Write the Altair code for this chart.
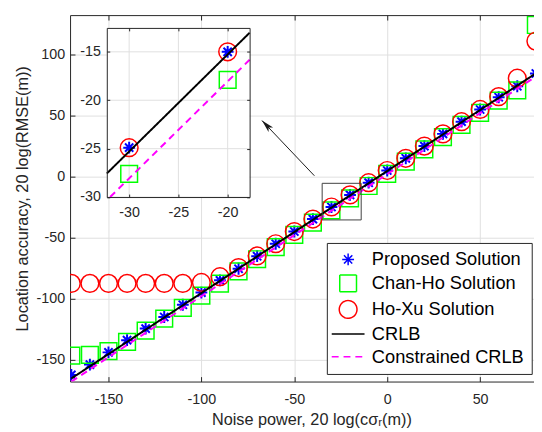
import altair as alt
import pandas as pd

# ---------------- data ----------------
x_vals = [-170, -160, -150, -140, -130, -120, -110, -100, -90, -80, -70, -60, -50,
          -40, -30, -20, -10, 0, 10, 20, 30, 40, 50, 60, 70, 80]
proposed = [-162.5, -154.0, -144.0, -134.0, -124.5, -115.0, -105.0, -95.0, -85.0, -75.5,
            -65.2, -55.0, -45.0, -34.8, -24.9, -15.0, -5.0, 5.0, 15.0, 25.0, 35.0, 45.0,
            55.0, 65.0, 74.0, 84.5]
chan_ho = [-146.7, -146.1, -142.9, -135.4, -126.2, -116.3, -107.5, -97.6, -87.7, -77.7,
           -67.7, -57.7, -47.7, -37.7, -27.6, -17.9, -7.7, 2.3, 12.3, 22.3, 32.3, 42.3,
           52.3, 62.3, 70.7, 124.2]
ho_xu = [-87.5, -87.5, -87.5, -87.5, -87.5, -87.5, -87.5, -86.7, -82.0, -74.5,
         -65.0, -55.0, -45.0, -34.8, -24.9, -15.0, -5.0, 5.0, 15.0, 25.0, 35.0, 45.0,
         55.0, 65.5, 80.6, 111.0]
crlb = [-165.4, -155.4, -145.4, -135.4, -125.4, -115.4, -105.4, -95.4, -85.4, -75.4,
        -65.4, -55.4, -45.4, -35.4, -25.4, -15.4, -5.4, 4.6, 14.6, 24.6, 34.6, 44.6,
        54.6, 64.6, 74.6, 84.6]
crlb_constrained = [-168.0, -158.0, -148.0, -138.0, -128.0, -118.0, -108.0, -98.0, -88.0,
                    -78.0, -68.0, -58.0, -48.0, -38.0, -28.0, -18.0, -8.0, 2.0, 12.0, 22.0,
                    32.0, 42.0, 52.0, 62.0, 72.0, 82.0]

series_names = ["Proposed Solution", "Chan-Ho Solution", "Ho-Xu Solution",
                "CRLB", "Constrained CRLB"]
series_colors = ["#0000ff", "#00ff00", "#ff0000", "#000000", "#ff00ff"]

x_ticks = [-150, -100, -50, 0, 50]
y_ticks = [-150, -100, -50, 0, 50, 100]
x_limits = [-170.68, 79.0]
y_limits = [-167.9, 132.3]

inset_x_ticks = [-30, -25, -20]
inset_y_ticks = [-30, -25, -20, -15]
inset_x_limits = [-32.27, -17.77]
inset_y_limits = [-30.0, -12.53]
inset_crlb_x = [-32.27, -17.77]
inset_crlb_y = [-27.57, -13.03]
inset_ccrlb_x = [-31.93, -17.77]
inset_ccrlb_y = [-30.0, -15.82]

zoom_box_x = [-35.0, -14.0]
zoom_box_y = [-35.5, -5.5]
arrow_x = [-39.2, -67.4]
arrow_y = [0.7, 45.9]

# ---------------- styling / layout ----------------
W, H = 471, 372
FONT = "Liberation Sans"
TXT = "#262626"
GRID = "#dfdfdf"
STAR = "M-1,0L1,0M0,-1L0,1M-0.7,-0.7L0.7,0.7M-0.7,0.7L0.7,-0.7"
LINE_SYM = "M-1.85,0L1.85,0"
ARROW = "M0,0L0.4,1.6L0,1.2L-0.4,1.6Z"
LBL = "'' + datum.value"

IX_RANGE = [37.3, 182.3]
IY_RANGE = [184.7, 13.0]


def ax(**kw):
    base = dict(labelFont=FONT, labelFontSize=14.5, labelColor=TXT, titleFont=FONT,
                titleFontSize=16.5, titleColor=TXT, titleFontWeight="normal",
                domainColor=TXT, tickColor=TXT, domainWidth=1, tickWidth=1,
                gridColor=GRID, gridWidth=1)
    base.update(kw)
    return alt.Axis(**base)


pts = pd.DataFrame({
    "x": x_vals * 3,
    "y": proposed + chan_ho + ho_xu,
    "series": [series_names[0]] * len(x_vals) + [series_names[1]] * len(x_vals)
              + [series_names[2]] * len(x_vals),
})
curves_df = pd.DataFrame({
    "x": x_vals * 2,
    "y": crlb + crlb_constrained,
    "series": [series_names[3]] * len(x_vals) + [series_names[4]] * len(x_vals),
})

LEG = alt.Legend(title=None, orient="none", legendX=260.7, legendY=231.3,
                 fillColor="white", strokeColor=TXT, padding=7.5, labelFont=FONT,
                 labelFontSize=18.5, labelColor="black", labelOffset=14.1, symbolOffset=4.1,
                 rowPadding=3, symbolStrokeWidth=1.5, labelLimit=400)
color = alt.Color("series:N", scale=alt.Scale(domain=series_names, range=series_colors),
                  legend=LEG)
shape = alt.Shape("series:N", scale=alt.Scale(domain=series_names,
                  range=[STAR, "square", "circle", LINE_SYM, LINE_SYM]), legend=LEG)
size = alt.Size("series:N", scale=alt.Scale(type="ordinal", domain=series_names,
                range=[144, 289, 324, 324, 324]), legend=LEG)
dash = alt.StrokeDash("series:N", scale=alt.Scale(domain=series_names,
                      range=[[1, 0], [1, 0], [1, 0], [1, 0], [7, 5]]), legend=LEG)

is_star = alt.FieldEqualPredicate(field="series", equal=series_names[0])
not_star = alt.FieldOneOfPredicate(field="series", oneOf=series_names[1:3])

# ---------------- main plot ----------------
XS = alt.Scale(domain=x_limits, nice=False, zero=False)
YS = alt.Scale(domain=y_limits, nice=False, zero=False)
AX_X = ax(orient="bottom", values=x_ticks, title="Noise power, 20 log(cσᵣ(m))", grid=True,
          ticks=False, labelPadding=11, titleX=245, titleY=43.3,
          titleBaseline="alphabetic", labelExpr=LBL, zindex=0)
AX_Y = ax(orient="left", values=y_ticks, title="Location accuracy, 20 log(RMSE(m))",
          grid=True, ticks=False, labelPadding=5.5, titleX=-42.7,
          titleBaseline="alphabetic", labelExpr=LBL, zindex=0)
ex = alt.X("x:Q", scale=XS, axis=AX_X)
ey = alt.Y("y:Q", scale=YS, axis=AX_Y)

stars = alt.Chart(pts).transform_filter(is_star).mark_point(
    filled=False, strokeWidth=2, opacity=1, clip=True).encode(
    x=ex, y=ey, color=color, shape=shape, size=size)
rings = alt.Chart(pts).transform_filter(not_star).mark_point(
    filled=False, strokeWidth=1.5, opacity=1, clip=True).encode(
    x=ex, y=ey, color=color, shape=shape, size=size)
curves = alt.Chart(curves_df).mark_line(strokeWidth=2, clip=True).encode(
    x=ex, y=ey, color=color, strokeDash=dash)
box = alt.Chart(pd.DataFrame({"x": [zoom_box_x[0]], "x2": [zoom_box_x[1]],
                              "y": [zoom_box_y[0]], "y2": [zoom_box_y[1]]})).mark_rect(
    fill="white", fillOpacity=0, stroke="#404040", strokeWidth=1).encode(
    x=ex, x2="x2:Q", y=ey, y2="y2:Q")
arrow_df = pd.DataFrame({"x": arrow_x, "y": arrow_y})
arrow_line = alt.Chart(arrow_df).mark_line(color="#1a1a1a", strokeWidth=1).encode(x=ex, y=ey)
arrow_head = alt.Chart(arrow_df.iloc[[1]]).mark_point(
    shape=ARROW, filled=True, color="#1a1a1a", size=262, angle=316, opacity=1).encode(x=ex, y=ey)

main = alt.layer(stars, rings, curves, box, arrow_line, arrow_head)

tick1 = alt.Chart(pts).mark_point(opacity=0).encode(
    x=alt.X("x:Q", scale=XS, axis=ax(orient="top", offset=-H, values=x_ticks, labels=False,
                                     domain=False, grid=False, tickSize=5, title=None, zindex=1)),
    y=alt.Y("y:Q", scale=YS, axis=ax(orient="right", offset=-W, values=y_ticks, labels=False,
                                     domain=False, grid=False, tickSize=5, title=None, zindex=1)))
tick2 = alt.Chart(pts).mark_point(opacity=0).encode(
    x=alt.X("x:Q", scale=XS, axis=ax(orient="bottom", offset=-H, values=x_ticks, labels=False,
                                     domain=True, grid=False, tickSize=5, title=None, zindex=1)),
    y=alt.Y("y:Q", scale=YS, axis=None))

# ---------------- inset ----------------
IXS = alt.Scale(domain=inset_x_limits, range=IX_RANGE, nice=False, zero=False)
IYS = alt.Scale(domain=inset_y_limits, range=IY_RANGE, nice=False, zero=False)
IAX_X = ax(orient="bottom", offset=IY_RANGE[0] - H, values=inset_x_ticks, ticks=False,
           labelPadding=9, grid=False, domain=True, title=None, zindex=1, labelExpr=LBL)
IAX_Y = ax(orient="left", offset=-IX_RANGE[0], values=inset_y_ticks, ticks=False,
           labelPadding=6.5, grid=False, domain=True, title=None, zindex=1, labelExpr=LBL)
ix = alt.X("x:Q", scale=IXS, axis=IAX_X)
iy = alt.Y("y:Q", scale=IYS, axis=IAX_Y)

bg = alt.Chart(pd.DataFrame({"x": [inset_x_limits[0]], "x2": [inset_x_limits[1]],
                             "y": [inset_y_limits[0]], "y2": [inset_y_limits[1]]})).mark_rect(
    fill="white").encode(x=ix, x2="x2:Q", y=iy, y2="y2:Q")
gx = alt.Chart(pd.DataFrame({"x": inset_x_ticks,
                             "y": [inset_y_limits[0]] * len(inset_x_ticks),
                             "y2": [inset_y_limits[1]] * len(inset_x_ticks)})).mark_rule(
    color=GRID, strokeWidth=1).encode(x=ix, y=iy, y2="y2:Q")
gy = alt.Chart(pd.DataFrame({"y": inset_y_ticks,
                             "x": [inset_x_limits[0]] * len(inset_y_ticks),
                             "x2": [inset_x_limits[1]] * len(inset_y_ticks)})).mark_rule(
    color=GRID, strokeWidth=1).encode(x=ix, x2="x2:Q", y=iy)
inset_lines_df = pd.DataFrame({
    "x": inset_crlb_x + inset_ccrlb_x,
    "y": inset_crlb_y + inset_ccrlb_y,
    "series": [series_names[3]] * 2 + [series_names[4]] * 2,
})
in_range = alt.FieldRangePredicate(field="x", range=[-30, -20])
istars = alt.Chart(pts).transform_filter(in_range).transform_filter(is_star).mark_point(
    filled=False, strokeWidth=2, opacity=1).encode(x=ix, y=iy, color=color, shape=shape, size=size)
irings = alt.Chart(pts).transform_filter(in_range).transform_filter(not_star).mark_point(
    filled=False, strokeWidth=1.5, opacity=1).encode(x=ix, y=iy, color=color, shape=shape, size=size)
ilines = alt.Chart(inset_lines_df).mark_line(strokeWidth=2).encode(
    x=ix, y=iy, color=color, strokeDash=dash)
inset = alt.layer(bg, gx, gy, istars, irings, ilines)

itick1 = alt.Chart(pts).mark_point(opacity=0).encode(
    x=alt.X("x:Q", scale=IXS, axis=ax(orient="top", offset=-IY_RANGE[0], values=inset_x_ticks,
                                      labels=False, domain=False, grid=False, tickSize=3,
                                      title=None, zindex=1)),
    y=alt.Y("y:Q", scale=IYS, axis=ax(orient="right", offset=IX_RANGE[0] - W,
                                      values=inset_y_ticks, labels=False, domain=False,
                                      grid=False, tickSize=3, title=None, zindex=1)))
itick2 = alt.Chart(pts).mark_point(opacity=0).encode(
    x=alt.X("x:Q", scale=IXS, axis=ax(orient="bottom", offset=IY_RANGE[1] - H,
                                      values=inset_x_ticks, labels=False, domain=True,
                                      grid=False, tickSize=3, title=None, zindex=1)),
    y=alt.Y("y:Q", scale=IYS, axis=ax(orient="left", offset=-IX_RANGE[1],
                                      values=inset_y_ticks, labels=False, domain=True,
                                      grid=False, tickSize=3, title=None, zindex=1)))

chart = alt.layer(main, tick1, tick2, inset, itick1, itick2).resolve_scale(
    x="independent", y="independent").properties(
    width=W, height=H,
    autosize=alt.AutoSizeParams(type="none"),
    padding={"left": 63, "top": 4, "right": 0, "bottom": 48},
    background="white",
).configure_view(stroke=None)

chart.save("out.html", embed_options={"renderer": "svg", "actions": False})
